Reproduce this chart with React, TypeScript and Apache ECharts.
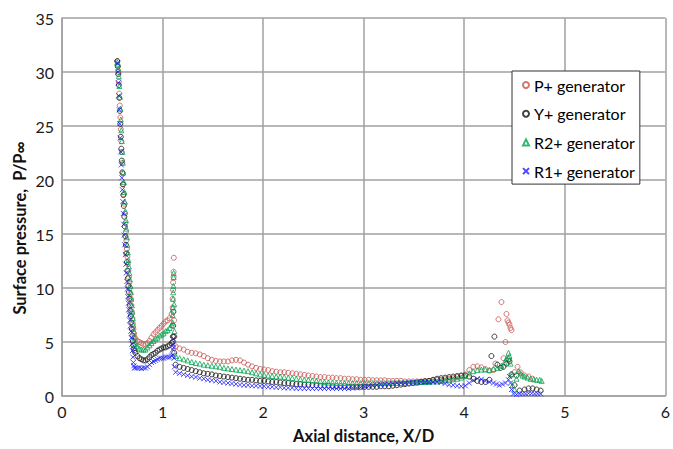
import React, { useEffect, useRef } from "react";
import * as echarts from "echarts";

const seriesNames = ["P+ generator", "Y+ generator", "R2+ generator", "R1+ generator"];
const xTicks = [0, 1, 2, 3, 4, 5, 6];
const yTicks = [0, 5, 10, 15, 20, 25, 30, 35];
const xTitle = "Axial distance, X/D";
const yTitle = "Surface pressure,  P/P\u221e";

const xDescent = [0.55, 0.555, 0.56, 0.565, 0.57, 0.575, 0.58, 0.585, 0.59, 0.595, 0.6, 0.605, 0.61, 0.615, 0.62, 0.625, 0.63, 0.635, 0.64, 0.645, 0.65, 0.655, 0.66, 0.665, 0.67, 0.675, 0.68, 0.685, 0.69, 0.695, 0.7, 0.705, 0.71, 0.715, 0.72];
const xValley = [0.73, 0.75, 0.77, 0.79, 0.81, 0.83, 0.85, 0.87, 0.89, 0.91, 0.93, 0.95, 0.97, 0.99, 1.01, 1.03, 1.05, 1.07, 1.09];
const xMiddle = [1.13, 1.17, 1.21, 1.25, 1.29, 1.33, 1.37, 1.41, 1.45, 1.49,
  1.53, 1.57, 1.61, 1.65, 1.69, 1.73, 1.77, 1.81, 1.85, 1.89,
  1.93, 1.97, 2.01, 2.05, 2.09, 2.13, 2.17, 2.21, 2.25, 2.29,
  2.33, 2.37, 2.41, 2.45, 2.49, 2.53, 2.57, 2.61, 2.65, 2.69,
  2.73, 2.77, 2.81, 2.85, 2.89, 2.93, 2.97, 3.01, 3.05, 3.09,
  3.13, 3.17, 3.21, 3.25, 3.29, 3.33, 3.37, 3.41, 3.45, 3.49,
  3.53, 3.57, 3.61, 3.65, 3.69, 3.73, 3.77, 3.81, 3.85, 3.89,
  3.93, 3.97, 4.01, 4.05, 4.09, 4.13, 4.17, 4.21, 4.25];

// P+ generator
const pDescent = [31.0, 30.6, 30.0, 29.1, 28.0, 26.9, 25.8, 24.7, 23.6, 22.6, 21.6, 20.6, 19.6, 18.7, 17.8, 16.9, 16.0, 15.2, 14.4, 13.6, 12.9, 12.2, 11.6, 11.0, 10.5, 10.0, 9.5, 9.0, 8.4, 7.8, 7.2, 6.7, 6.2, 5.8, 5.5];
const pValley = [5.3, 5.1, 5.0, 4.9, 4.8, 4.8, 4.9, 5.1, 5.4, 5.7, 5.9, 6.1, 6.3, 6.5, 6.7, 6.9, 7.0, 7.2, 7.6];
const pSpike = [[1.1, 8.2], [1.1, 9.0], [1.105, 9.8], [1.105, 10.5], [1.11, 11.0], [1.11, 11.5], [1.112, 12.8], [1.115, 7.0], [1.118, 5.5]];
const pMiddle = [4.6, 4.4, 4.3, 4.1, 4.0, 3.95, 3.85, 3.7, 3.5, 3.35,
  3.25, 3.2, 3.2, 3.2, 3.3, 3.35, 3.3, 3.1, 2.9, 2.75,
  2.6, 2.5, 2.45, 2.4, 2.3, 2.25, 2.2, 2.2, 2.15, 2.1,
  2.05, 2.0, 1.95, 1.9, 1.85, 1.8, 1.75, 1.75, 1.7, 1.7,
  1.65, 1.65, 1.6, 1.6, 1.55, 1.55, 1.5, 1.5, 1.5, 1.45,
  1.45, 1.45, 1.45, 1.4, 1.4, 1.4, 1.4, 1.35, 1.35, 1.35,
  1.35, 1.35, 1.4, 1.4, 1.45, 1.5, 1.5, 1.55, 1.6, 1.65,
  1.75, 1.85, 2.0, 2.4, 2.7, 2.75, 2.65, 2.5, 2.35];
const pTail = [[4.29, 2.4], [4.31, 3.0], [4.34, 7.1], [4.37, 8.7], [4.39, 3.5], [4.41, 5.0], [4.42, 7.6], [4.43, 7.0], [4.44, 6.8], [4.45, 6.6], [4.46, 6.3], [4.47, 6.1], [4.5, 2.2], [4.53, 2.7], [4.56, 2.2], [4.6, 1.9], [4.64, 1.8], [4.68, 1.6]];

// Y+ generator
const yDescent = [31.0, 30.5, 29.8, 28.8, 27.6, 26.4, 25.2, 24.0, 22.9, 21.8, 20.7, 19.6, 18.6, 17.6, 16.6, 15.7, 14.8, 14.0, 13.2, 12.4, 11.6, 10.9, 10.2, 9.6, 9.0, 8.4, 7.9, 7.4, 6.8, 6.2, 5.6, 5.1, 4.7, 4.4, 4.2];
const yValley = [4.0, 3.7, 3.5, 3.4, 3.3, 3.3, 3.4, 3.6, 3.8, 3.9, 4.0, 4.2, 4.3, 4.4, 4.5, 4.5, 4.6, 4.7, 4.9];
const ySpike = [[1.1, 5.0], [1.102, 5.5], [1.106, 6.5], [1.108, 7.8], [1.112, 5.5], [1.116, 4.0]];
const yMiddle = [2.9, 2.7, 2.6, 2.5, 2.4, 2.3, 2.2, 2.1, 2.05, 2.0,
  1.9, 1.85, 1.8, 1.75, 1.7, 1.65, 1.6, 1.55, 1.5, 1.5,
  1.45, 1.4, 1.4, 1.35, 1.3, 1.3, 1.25, 1.2, 1.2, 1.15,
  1.1, 1.1, 1.05, 1.05, 1.0, 1.0, 0.95, 0.95, 0.95, 0.9,
  0.9, 0.9, 0.9, 0.85, 0.85, 0.85, 0.85, 0.85, 0.85, 0.85,
  0.85, 0.9, 0.9, 0.9, 0.95, 1.0, 1.05, 1.1, 1.15, 1.2,
  1.25, 1.3, 1.35, 1.4, 1.5, 1.6, 1.65, 1.7, 1.75, 1.8,
  1.85, 1.9, 1.9, 1.8, 1.6, 1.4, 1.3, 1.3, 1.5];
const yTail = [[4.27, 3.7], [4.3, 5.5], [4.33, 2.9], [4.36, 2.6], [4.39, 2.7], [4.42, 3.0], [4.44, 3.4], [4.45, 3.2], [4.47, 2.0], [4.5, 1.0], [4.52, 1.9], [4.55, 0.5], [4.6, 0.6], [4.64, 0.7], [4.68, 0.7], [4.72, 0.6], [4.76, 0.5]];

// R2+ generator
const gDescent = [30.9, 30.7, 30.3, 29.6, 28.7, 27.7, 26.6, 25.6, 24.6, 23.6, 22.6, 21.6, 20.7, 19.8, 18.9, 18.0, 17.1, 16.3, 15.5, 14.7, 14.0, 13.3, 12.6, 12.0, 11.4, 10.8, 10.2, 9.6, 9.0, 8.4, 7.8, 7.2, 6.6, 6.0, 5.4];
const gValley = [4.8, 4.6, 4.4, 4.3, 4.3, 4.3, 4.5, 4.7, 4.9, 5.1, 5.3, 5.4, 5.6, 5.7, 5.8, 6.0, 6.1, 6.3, 6.6];
const gSpike = [[1.1, 6.8], [1.1, 7.5], [1.102, 8.2], [1.104, 9.0], [1.106, 9.6], [1.108, 10.2], [1.11, 11.0], [1.11, 11.4], [1.115, 8.5], [1.118, 6.0]];
const gMiddle = [3.7, 3.5, 3.4, 3.3, 3.15, 3.05, 3.0, 2.9, 2.85, 2.8,
  2.75, 2.7, 2.6, 2.55, 2.5, 2.45, 2.4, 2.35, 2.3, 2.2,
  2.1, 2.0, 1.95, 1.9, 1.85, 1.8, 1.8, 1.75, 1.7, 1.65,
  1.6, 1.55, 1.5, 1.5, 1.45, 1.4, 1.35, 1.3, 1.25, 1.25,
  1.2, 1.2, 1.2, 1.2, 1.2, 1.2, 1.2, 1.2, 1.2, 1.2,
  1.2, 1.2, 1.2, 1.2, 1.2, 1.2, 1.2, 1.2, 1.2, 1.25,
  1.25, 1.3, 1.3, 1.3, 1.35, 1.35, 1.4, 1.45, 1.5, 1.55,
  1.6, 1.7, 1.85, 2.1, 2.3, 2.4, 2.45, 2.45, 2.4];
const gTail = [[4.29, 2.5], [4.33, 2.6], [4.37, 2.8], [4.4, 3.1], [4.42, 3.5], [4.44, 4.0], [4.45, 3.7], [4.46, 3.0], [4.47, 2.0], [4.48, 1.0], [4.5, 0.6], [4.52, 1.6], [4.54, 2.3], [4.56, 2.1], [4.58, 1.9], [4.6, 1.8], [4.63, 1.7], [4.66, 1.6], [4.69, 1.55], [4.72, 1.5], [4.75, 1.5], [4.77, 1.4]];

// R1+ generator
const bDescent = [30.8, 30.0, 29.0, 27.8, 26.5, 25.2, 23.9, 22.6, 21.4, 20.2, 19.1, 18.0, 16.9, 15.9, 14.9, 14.0, 13.1, 12.2, 11.4, 10.6, 9.9, 9.2, 8.6, 8.0, 7.5, 7.0, 6.5, 6.0, 5.4, 4.8, 4.2, 3.6, 3.1, 2.8, 2.6];
const bValley = [2.6, 2.6, 2.6, 2.55, 2.6, 2.6, 2.7, 2.9, 3.1, 3.2, 3.3, 3.4, 3.5, 3.5, 3.5, 3.6, 3.6, 3.6, 3.7];
const bSpike = [[1.1, 3.8], [1.102, 4.3], [1.105, 4.8], [1.108, 5.3], [1.112, 4.5], [1.115, 3.5], [1.118, 2.7]];
const bMiddle = [2.2, 2.1, 2.0, 1.9, 1.8, 1.75, 1.65, 1.6, 1.5, 1.45,
  1.4, 1.3, 1.25, 1.2, 1.15, 1.1, 1.05, 1.0, 1.0, 0.95,
  0.95, 0.9, 0.9, 0.85, 0.85, 0.8, 0.8, 0.75, 0.75, 0.75,
  0.7, 0.7, 0.7, 0.7, 0.7, 0.7, 0.7, 0.7, 0.7, 0.7,
  0.7, 0.7, 0.7, 0.7, 0.75, 0.75, 0.8, 0.85, 0.9, 0.95,
  1.0, 1.05, 1.1, 1.1, 1.15, 1.2, 1.2, 1.2, 1.25, 1.25,
  1.25, 1.3, 1.3, 1.3, 1.3, 1.3, 1.25, 1.15, 1.05, 1.0,
  0.95, 0.9, 0.95, 1.2, 1.45, 1.6, 1.55, 1.4, 1.3];
const bTail = [[4.29, 1.2], [4.32, 1.1], [4.35, 1.0], [4.38, 1.1], [4.41, 1.2], [4.44, 1.5], [4.45, 1.8], [4.46, 1.2], [4.47, 0.6], [4.49, 0.2], [4.52, 0.15], [4.55, 0.2], [4.58, 0.2], [4.61, 0.2], [4.64, 0.25], [4.67, 0.25], [4.7, 0.2], [4.73, 0.2], [4.76, 0.2]];

function zip(xs: number[], ys: number[]) {
  return xs.map((x, i) => [x, ys[i]]).filter((p) => p[1] !== undefined);
}

function build(d: number[], v: number[], s: number[][], m: number[], t: number[][]) {
  return [...zip(xDescent, d), ...zip(xValley, v), ...s, ...zip(xMiddle, m), ...t];
}

const FONT = "Lato, 'Open Sans', sans-serif";

export default function App() {
  const ref = useRef<HTMLDivElement>(null);
  useEffect(() => {
    if (!ref.current) return;
    const chart = echarts.init(ref.current, undefined, { renderer: "svg" });
    const mk = (name: string, data: number[][], symbol: string, color: string, size: number) => ({
      name,
      type: "scatter",
      data,
      symbol,
      symbolSize: size,
      itemStyle: { color: "rgba(0,0,0,0)", borderColor: color, borderWidth: 1 },
      emphasis: { disabled: true },
    });
    chart.setOption({
      animation: false,
      backgroundColor: "#ffffff",
      grid: { left: 62, right: 6, top: 18, bottom: 53, containLabel: false },
      legend: {
        left: 512,
        top: 71,
        orient: "vertical",
        backgroundColor: "#ffffff",
        borderColor: "#333333",
        borderWidth: 1,
        borderRadius: 0,
        padding: [6, 5, 5, 10],
        itemGap: 12.7,
        itemWidth: 6,
        itemHeight: 6,
        textStyle: { fontFamily: FONT, fontSize: 16, color: "#000", lineHeight: 16 },
        data: seriesNames,
      },
      graphic: [
        {
          type: "text",
          x: 20,
          y: 228,
          rotation: Math.PI / 2,
          style: {
            text: yTitle,
            fontFamily: FONT,
            fontSize: 16.5,
            fontWeight: "bold",
            fill: "#111",
            textAlign: "center",
            textVerticalAlign: "middle",
          },
        },
      ],
      xAxis: {
        type: "value",
        min: xTicks[0],
        max: xTicks[xTicks.length - 1],
        interval: 1,
        name: xTitle,
        nameLocation: "middle",
        nameGap: 31,
        nameTextStyle: { fontFamily: FONT, fontSize: 16.5, fontWeight: "bold", color: "#111" },
        axisLine: { lineStyle: { color: "#a0a0a0", width: 1.5 } },
        axisTick: { show: false },
        axisLabel: { fontFamily: FONT, fontSize: 16, color: "#1a1a1a", margin: 7 },
        splitLine: { show: true, lineStyle: { color: "#a0a0a0", width: 1.5 } },
      },
      yAxis: {
        type: "value",
        min: yTicks[0],
        max: yTicks[yTicks.length - 1],
        interval: 5,
        axisLine: { show: true, lineStyle: { color: "#a0a0a0", width: 1.5 } },
        axisTick: { show: false },
        axisLabel: { fontFamily: FONT, fontSize: 16, color: "#1a1a1a", margin: 8 },
        splitLine: { show: true, lineStyle: { color: "#a0a0a0", width: 1.5 } },
      },
      series: [
        mk(seriesNames[0], build(pDescent, pValley, pSpike, pMiddle, pTail), "circle", "#c85450", 5),
        mk(seriesNames[1], build(yDescent, yValley, ySpike, yMiddle, yTail), "circle", "#111111", 5),
        mk(seriesNames[2], build(gDescent, gValley, gSpike, gMiddle, gTail), "triangle", "#00a650", 5),
        mk(seriesNames[3], build(bDescent, bValley, bSpike, bMiddle, bTail), "path://M0,0L10,10M10,0L0,10", "#1a1aff", 5),
      ],
    });
    return () => chart.dispose();
  }, []);
  return <div ref={ref} style={{ position: "absolute", left: 0, top: 0, width: 673, height: 449 }} />;
}
